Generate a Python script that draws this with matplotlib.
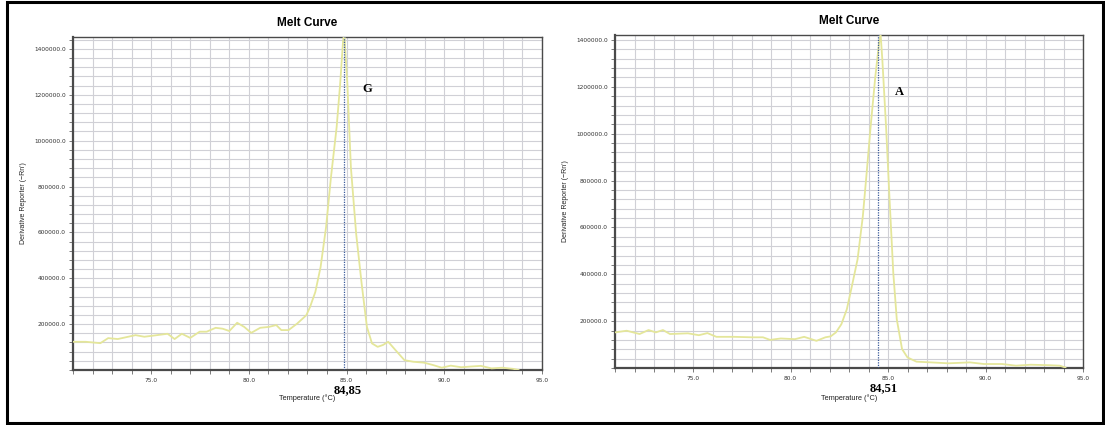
import matplotlib
matplotlib.use("Agg")
import matplotlib.pyplot as plt
from matplotlib.ticker import MultipleLocator, FuncFormatter
from matplotlib.patches import Rectangle

# ---- data ----
temp_g = [71.0, 71.65, 72.4, 72.8, 73.29, 74.2, 74.65, 75.3, 75.84, 76.2, 76.57, 77.0,
          77.48, 77.84, 78.3, 78.66, 79.0, 79.4, 79.76, 80.12, 80.58, 81.03, 81.4, 81.66,
          82.03, 82.48, 82.94, 83.13, 83.4, 83.67, 83.95, 84.2, 84.49, 84.67, 84.82, 84.88,
          85.04, 85.22, 85.49, 85.77, 86.04, 86.3, 86.59, 86.86, 87.13, 87.5, 87.96, 88.41,
          88.96, 89.41, 89.87, 90.33, 90.87, 91.33, 91.87, 92.42, 92.97, 93.52, 93.8]
deriv_g = [123000, 123000, 117000, 139000, 135000, 152000, 145000, 152000, 158000, 135000,
           158000, 140000, 167000, 167000, 184000, 180000, 170000, 206000, 188000, 162000,
           184000, 188000, 196000, 174000, 174000, 203000, 239000, 275000, 340000, 449000,
           623000, 840000, 1058000, 1246000, 1435000, 1470000, 1246000, 884000, 594000,
           377000, 188000, 116000, 101000, 109000, 123000, 87000, 43000, 36000, 32000,
           22000, 10000, 19000, 12000, 15000, 18000, 7000, 10000, 5000, 0]

temp_a = [71.0, 71.6, 72.26, 72.72, 73.09, 73.46, 73.82, 74.74, 75.3, 75.74, 76.2, 77.1,
          78.03, 78.59, 78.95, 79.5, 80.23, 80.7, 81.33, 81.79, 82.06, 82.33, 82.61, 82.89,
          83.15, 83.44, 83.71, 83.89, 84.11, 84.35, 84.54, 84.62, 84.71, 84.9, 85.08, 85.27,
          85.45, 85.72, 86.0, 86.46, 87.19, 88.1, 89.2, 89.92, 90.85, 91.56, 92.32, 93.24,
          93.8, 94.1]
deriv_a = [152000, 159000, 145000, 162000, 152000, 162000, 145000, 148000, 140000, 149000,
           133000, 133000, 131000, 131000, 120000, 126000, 123000, 133000, 116000, 131000,
           135000, 152000, 187000, 251000, 350000, 464000, 648000, 818000, 1031000, 1244000,
           1386000, 1425000, 1315000, 1031000, 719000, 407000, 208000, 81000, 45000, 27000,
           24000, 20000, 24000, 17000, 17000, 10000, 14000, 12000, 10000, 2000]

panel_titles = ["Melt Curve", "Melt Curve"]
peak_temps = [84.85, 84.51]
peak_labels = ["84,85", "84,51"]
genotypes = ["G", "A"]
x_label = "Temperature (°C)"
y_label = "Derivative Reporter (\u2212Rn')"
x_major = [75, 80, 85, 90, 95]

# ---- figure ----
W, H = 1105, 425
fig = plt.figure(figsize=(W / 100, H / 100), dpi=100)
fig.patch.set_facecolor("white")

def fx(px):
    return px / W

def fy(py):
    return 1 - py / H

# outer frame
fig.patches.append(Rectangle((fx(7), fy(423)), fx(1103) - fx(7), fy(2) - fy(423),
                             transform=fig.transFigure, fill=False, edgecolor="black",
                             linewidth=2.2, zorder=10))

axes_px = [(73, 542, 37, 370), (615, 1083, 35, 368)]
ylims = [(0, 1452000), (0, 1421000)]
geno_pos = [(86.05, 1225000), (85.6, 1178000)]
peak_label_dx = [0.2, 0.28]
peak_label_dy = [-0.06, -0.062]
xlabel_dy = [-0.074, -0.08]
series = [(temp_g, deriv_g), (temp_a, deriv_a)]

curve_color = "#e4e69a"
grid_color = "#d0d0d6"
spine_color = "#4a4a4a"

for i in range(2):
    l, r, t, b = axes_px[i]
    ax = fig.add_axes([fx(l), fy(b), fx(r) - fx(l), fy(t) - fy(b)])
    x, y = series[i]
    ax.plot(x, y, color=curve_color, linewidth=1.3, zorder=3)
    ax.axvline(peak_temps[i], color="#3a5a9a", linestyle=(0, (1, 1)), linewidth=0.9, zorder=4)
    ax.set_xlim(71, 95)
    ax.set_ylim(*ylims[i])
    ax.xaxis.set_major_locator(plt.FixedLocator(x_major))
    ax.xaxis.set_minor_locator(MultipleLocator(1))
    ax.yaxis.set_major_locator(MultipleLocator(200000))
    ax.yaxis.set_minor_locator(MultipleLocator(40000))
    ax.xaxis.set_major_formatter(FuncFormatter(lambda v, p: f"{v:.1f}"))
    ax.yaxis.set_major_formatter(FuncFormatter(lambda v, p: "" if v <= 0 else f"{v:.1f}"))
    ax.grid(True, which="both", color=grid_color, linewidth=0.8, zorder=0)
    ax.set_axisbelow(True)
    ax.tick_params(axis="both", which="both", labelsize=4.2, colors="#666666",
                   labelcolor="#333333", length=3, width=0.6, direction="out")
    ax.tick_params(axis="x", which="major", pad=3)
    ax.tick_params(axis="y", which="major", pad=2)
    for side in ["top", "right"]:
        ax.spines[side].set_color(spine_color)
        ax.spines[side].set_linewidth(1.0)
    for side in ["left", "bottom"]:
        ax.spines[side].set_color(spine_color)
        ax.spines[side].set_linewidth(1.6)
    ax.set_title(panel_titles[i], fontsize=8.5, fontweight="bold",
                 family="Liberation Sans", pad=8)
    ax.set_xlabel(x_label, fontsize=5.3, family="Liberation Sans", color="#222222")
    ax.xaxis.set_label_coords(0.5, xlabel_dy[i])
    ax.set_ylabel(y_label, fontsize=5, family="Liberation Sans", color="#222222")
    ax.yaxis.set_label_coords(-0.099, 0.5)
    ax.text(peak_temps[i] + peak_label_dx[i], peak_label_dy[i], peak_labels[i],
            transform=ax.get_xaxis_transform(),
            ha="center", va="center", fontsize=9, fontweight="bold",
            family="Liberation Serif", clip_on=False)
    gx, gy = geno_pos[i]
    ax.text(gx, gy, genotypes[i], ha="center", va="center", fontsize=9,
            fontweight="bold", family="Liberation Serif")

fig.savefig("out.png", dpi=100, facecolor="white")
